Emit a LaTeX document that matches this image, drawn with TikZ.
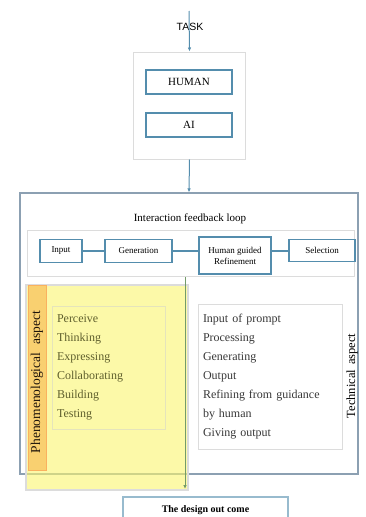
\documentclass[tikz,border=0pt]{standalone}
\usepackage{fontspec}
\setmainfont{Liberation Serif}
\newfontfamily\taskfont{Liberation Sans}
\usetikzlibrary{arrows.meta}
\definecolor{boxblue}{RGB}{84,141,173}
\definecolor{framegray}{RGB}{140,160,178}
\definecolor{paleline}{RGB}{220,220,220}
\definecolor{overlayyellow}{RGB}{250,245,110}
\definecolor{striporange}{RGB}{249,208,112}
\definecolor{listtext}{RGB}{55,55,55}
\definecolor{olivetext}{RGB}{95,95,45}
\definecolor{tintgreen}{RGB}{115,155,105}

\begin{document}
\begin{tikzpicture}[x=1pt, y=-1pt,
    bluebox/.style={draw=boxblue, line width=1.2pt, inner sep=1pt, align=center},
    palebox/.style={draw=paleline, line width=1pt},
    flow/.style={draw=boxblue, line width=1pt, -{Latex[length=4pt,width=3.5pt]}},
    link/.style={draw=boxblue, line width=2pt},
    listfont/.style={font=\fontsize{12}{19}\selectfont, text=listtext, align=left}]
            \clip (0,0) rectangle (366,517);
            % Task and the two agents
            \node[font=\taskfont\fontsize{10.5}{12}\selectfont] (task) at (190,27) {TASK};
            \coordinate (tasktop) at (189,11);
            \node[palebox, minimum width=112, minimum height=107] (agents) at (189.5,105.5) {};
            \node[bluebox, minimum width=86, minimum height=24, font=\fontsize{11}{13}\selectfont] (human) at (189,82) {HUMAN};
            \node[bluebox, minimum width=86, minimum height=24, font=\fontsize{11}{13}\selectfont] (ai) at (189,125) {AI};
            
            % Main frame
            \node[draw=framegray, line width=1.2pt, minimum width=338, minimum height=281] (frame) at (189,333.5) {};
            \draw[flow] (tasktop) -- (agents.north);
            \draw[flow] (agents.south) -- (frame.north);
            
            % Feedback loop
            \node[font=\fontsize{11}{13}\selectfont] (looptitle) at (190,219) {Interaction feedback loop};
            \node[palebox, minimum width=327, minimum height=46] (band) at (190.5,253.5) {};
            \node[bluebox, minimum width=42, minimum height=23, font=\fontsize{9}{10}\selectfont] (input) at (61,251) {Input};
            \node[bluebox, minimum width=67, minimum height=23, font=\fontsize{9}{10}\selectfont] (generation) at (138.5,251) {Generation};
            \node[bluebox, minimum width=72, minimum height=37, font=\fontsize{9}{11}\selectfont] (refine) at (235,255.5) {Human guided\\Refinement};
            \node[bluebox, minimum width=66, minimum height=22, font=\fontsize{9}{10}\selectfont] (selection) at (322,250.5) {Selection};
            \draw[link] (input.east) -- (generation.west);
            \draw[link] (generation.east) -- (refine.west |- generation.east);
            \draw[link] (refine.east |- selection.west) -- (selection.west);
            
            % Technical aspect
            \node[palebox, minimum width=144, minimum height=145, text width=134, inner sep=5pt, listfont] (techlist) at (270,376.5)
                {Input of prompt\\Processing\\Generating\\Output\\Refining from guidance\\by human\\Giving output};
            \node[rotate=90, font=\fontsize{12.5}{14}\selectfont] (techlabel) at (352,376) {Technical\hspace{0.4em}aspect};
            
            % Phenomenological aspect
            \node[draw=paleline, line width=2pt, fill=overlayyellow, fill opacity=0.6, minimum width=162, minimum height=205] (overlay) at (107,387.5) {};
            \node[draw=paleline!70!overlayyellow, line width=0.8pt, minimum width=113, minimum height=123, text width=103, inner sep=5pt, listfont, text=olivetext] (phenolist) at (108.5,367.5)
                {Perceive\\Thinking\\Expressing\\Collaborating\\Building\\Testing};
            \node[draw=striporange!85!red, fill=striporange, line width=0.4pt, minimum width=18, minimum height=185] (strip) at (37,377.5) {};
            \node[rotate=90, font=\fontsize{13.5}{15}\selectfont, text=black!85!brown] (phenolabel) at (37,382) {Phenomenological\hspace{0.6em}aspect};
            
            \coordinate (outtip) at (185,489);
            \draw[flow, draw=tintgreen] (outtip |- band.south) -- (outtip);
            
            % Outcome
            \node[draw=boxblue!60, line width=1.2pt, minimum width=165, minimum height=30] (outcome) at (205.5,512) {};
            \node[font=\bfseries\fontsize{10}{12}\selectfont] (outcometext) at (205.5,510.5) {The design out come};
        \end{tikzpicture}
\end{document}
